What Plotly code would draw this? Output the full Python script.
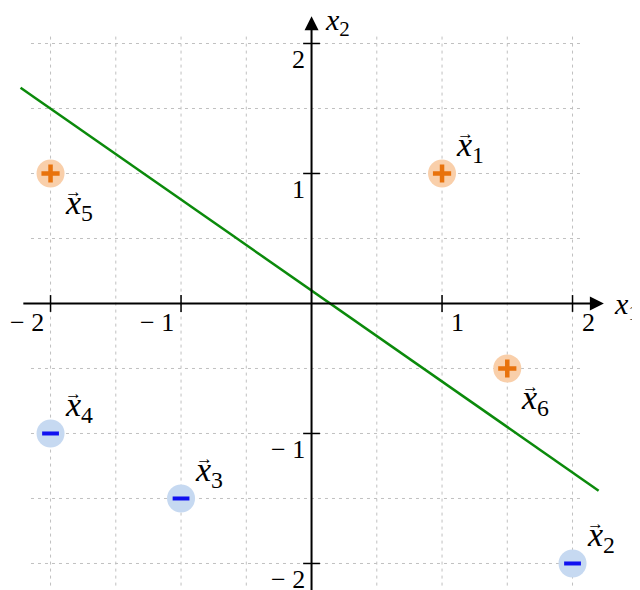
import plotly.graph_objects as go

# points (x1, x2) and their class
point_names = ["1", "2", "3", "4", "5", "6"]
point_x = [1, 2, -1, -2, -2, 1.5]
point_y = [1, -2, -1.5, -1, 1, -0.5]
point_cls = ["+", "-", "-", "-", "+", "+"]
# label placement: +1 above, -1 below
label_side = [1, 1, 1, 1, -1, -1]

# separating line
line_x = [-2.23, 2.2]
line_y = [1.66, -1.44]

# grid / ticks
grid_vals = [-2, -1.5, -1, -0.5, 0, 0.5, 1, 1.5, 2]
grid_x_span = [-2.15, 2.08]
grid_y_span = [-2.17, 2.06]
tick_vals = [-2, -1, 1, 2]
tick_text = ["\u2212 2", "\u2212 1", "1", "2"]

FONT = "Liberation Serif"
ORANGE_BG = "#f9cfaa"
ORANGE = "#e8720c"
BLUE_BG = "#c6d9f1"
BLUE = "#1010f0"
GREEN = "#0b8a0b"
GRID = "#c0c0c0"

fig = go.Figure()

# grid as dashed lines
gx, gy = [], []
for v in grid_vals:
    gx += [v, v, None]
    gy += [grid_y_span[0], grid_y_span[1], None]
for v in grid_vals:
    gx += [grid_x_span[0], grid_x_span[1], None]
    gy += [v, v, None]
fig.add_trace(go.Scatter(x=gx, y=gy, mode="lines",
                         line=dict(color=GRID, width=1, dash="3px,4px"),
                         hoverinfo="skip"))

# tick marks on the axes
fig.add_trace(go.Scatter(x=tick_vals, y=[0] * len(tick_vals), mode="markers",
                         marker=dict(symbol="line-ns", size=12, line=dict(color="black", width=1.5))))
fig.add_trace(go.Scatter(x=[0] * len(tick_vals), y=tick_vals, mode="markers",
                         marker=dict(symbol="line-ew", size=12, line=dict(color="black", width=1.5))))

# decision line
fig.add_trace(go.Scatter(x=line_x, y=line_y, mode="lines",
                         line=dict(color=GREEN, width=2.5)))

# points
pos_x = [x for x, c in zip(point_x, point_cls) if c == "+"]
pos_y = [y for y, c in zip(point_y, point_cls) if c == "+"]
neg_x = [x for x, c in zip(point_x, point_cls) if c == "-"]
neg_y = [y for y, c in zip(point_y, point_cls) if c == "-"]

fig.add_trace(go.Scatter(x=pos_x, y=pos_y, mode="markers",
                         marker=dict(symbol="circle", size=28, color=ORANGE_BG, line=dict(width=0))))
fig.add_trace(go.Scatter(x=pos_x, y=pos_y, mode="markers",
                         marker=dict(symbol="cross-thin", size=13, line=dict(color=ORANGE, width=4.5))))
fig.add_trace(go.Scatter(x=neg_x, y=neg_y, mode="markers",
                         marker=dict(symbol="circle", size=28, color=BLUE_BG, line=dict(width=0))))
fig.add_trace(go.Scatter(x=neg_x, y=neg_y, mode="markers",
                         marker=dict(symbol="line-ew", size=12, line=dict(color=BLUE, width=4))))

# axes with arrow heads
fig.add_annotation(x=2.24, y=0, ax=-2.22, ay=0, xref="x", yref="y", axref="x", ayref="y",
                   text="", showarrow=True, arrowhead=2, arrowsize=1.4, arrowwidth=2, arrowcolor="black")
fig.add_annotation(x=0, y=2.21, ax=0, ay=-2.4, xref="x", yref="y", axref="x", ayref="y",
                   text="", showarrow=True, arrowhead=2, arrowsize=1.4, arrowwidth=2, arrowcolor="black")

# axis names
fig.add_annotation(x=2.24, y=0, text="<i>x</i><sub>1</sub>", showarrow=False,
                   xanchor="left", yanchor="middle", xshift=8, yshift=-3,
                   font=dict(family=FONT, size=30, color="black"))
fig.add_annotation(x=0, y=2.21, text="<i>x</i><sub>2</sub>", showarrow=False,
                   xanchor="left", yanchor="middle", xshift=11, yshift=-6,
                   font=dict(family=FONT, size=30, color="black"))

# tick labels
for v, t in zip(tick_vals, tick_text):
    fig.add_annotation(x=v, y=0, text=t, showarrow=False,
                       xanchor="right" if v < 0 else "left", yanchor="middle",
                       xshift=-5 if v < 0 else 7, yshift=-19,
                       font=dict(family=FONT, size=26, color="black"))
    fig.add_annotation(x=0, y=v, text=t, showarrow=False,
                       xanchor="right", yanchor="middle", xshift=-5, yshift=-16,
                       font=dict(family=FONT, size=26, color="black"))

# point labels: italic x with a small arrow on top
for n, x, y, s in zip(point_names, point_x, point_y, label_side):
    fig.add_annotation(x=x, y=y, text=f"<i>x</i><sub>{n}</sub>", showarrow=False,
                       xanchor="left", yanchor="middle", xshift=12, yshift=29 * s - 3,
                       font=dict(family=FONT, size=34, color="black"))
    fig.add_annotation(x=x, y=y, text="\u2192", showarrow=False,
                       xanchor="center", yanchor="middle", xshift=23, yshift=29 * s + 11,
                       font=dict(family=FONT, size=17, color="black"))

fig.update_xaxes(range=[-2.326, 2.517], visible=False)
fig.update_yaxes(range=[-2.204, 2.273], visible=False)
fig.update_layout(width=632, height=582, margin=dict(l=0, r=0, t=0, b=0),
                  paper_bgcolor="white", plot_bgcolor="white", showlegend=False)

fig.write_html("out.html")
